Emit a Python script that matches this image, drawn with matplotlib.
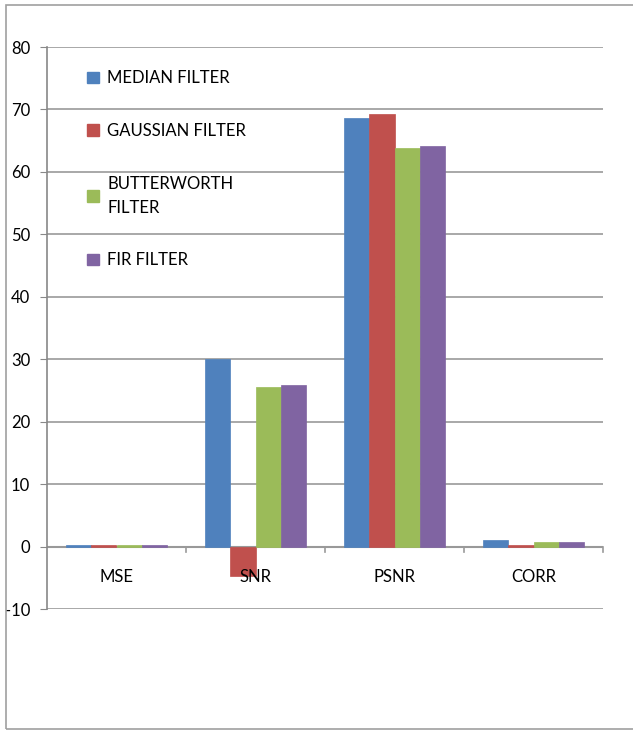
import matplotlib
matplotlib.use("Agg")
import matplotlib.pyplot as plt
import numpy as np
from matplotlib.patches import Rectangle, Patch

plt.rcParams['font.family'] = ['Lato', 'DejaVu Sans']

categories = ["MSE", "SNR", "PSNR", "CORR"]
series_names = ["MEDIAN FILTER", "GAUSSIAN FILTER", "BUTTERWORTH\nFILTER", "FIR FILTER"]
median = [0.3, 30.1, 68.7, 1.0]
gaussian = [0.3, -4.7, 69.3, 0.3]
butterworth = [0.3, 25.5, 63.9, 0.8]
fir = [0.3, 25.8, 64.2, 0.8]
colors = ["#4F81BD", "#C0504D", "#9BBB59", "#8064A2"]
yticks = list(range(-10, 81, 10))

W, H = 633, 731
fig = plt.figure(figsize=(W / 100, H / 100), dpi=100)
fig.patch.set_facecolor("white")
# outer chart border
fig.patches.append(Rectangle((6 / W, 2 / H), 1.2, (729 - 2 - 3) / H + 0.0, transform=fig.transFigure,
                             fill=False, edgecolor="#A0A0A0", linewidth=1.2))

ax = fig.add_axes([47 / W, 1 - 609 / H, (603 - 47) / W, (609 - 47) / H])
ax.set_xlim(0, 4)
ax.set_ylim(-10, 80)

x = np.arange(len(categories)) + 0.5
bw = 0.183
all_series = [median, gaussian, butterworth, fir]
for i, (vals, c) in enumerate(zip(all_series, colors)):
    ax.bar(x + (i - 1.5) * bw, vals, width=bw, color=c, edgecolor=c, linewidth=0.5, zorder=3)

ax.set_yticks(yticks)
ax.set_yticklabels([str(t) for t in yticks], fontsize=12)
ax.yaxis.grid(True, color="#999999", linewidth=1.2, zorder=0)
ax.set_axisbelow(True)
for s in ["top", "right", "bottom"]:
    ax.spines[s].set_visible(False)
ax.spines["left"].set_color("#888888")
ax.spines["left"].set_linewidth(1.2)
ax.tick_params(axis="y", length=5, color="#888888", pad=7, labelsize=12)

# category axis at zero
ax.axhline(0, color="#999999", linewidth=1.5, zorder=2)
ax.set_xticks([])
for b in range(1, 5):
    ax.plot([b, b], [0, -0.9], color="#999999", linewidth=1.2, zorder=2, clip_on=False)
for xi, cat in zip(x, categories):
    ax.text(xi, -4.8, cat, ha="center", va="center", fontsize=12)

handles = [Patch(facecolor=c, edgecolor=c) for c in colors]
leg = ax.legend(handles, series_names, loc="upper left", bbox_to_anchor=(0.045, 0.985),
                frameon=False, fontsize=12, labelspacing=2.2, handlelength=0.7,
                handleheight=0.7, handletextpad=0.5)
for t in leg.get_texts():
    t.set_linespacing(1.6)

fig.savefig("out.png", dpi=100, facecolor="white")
